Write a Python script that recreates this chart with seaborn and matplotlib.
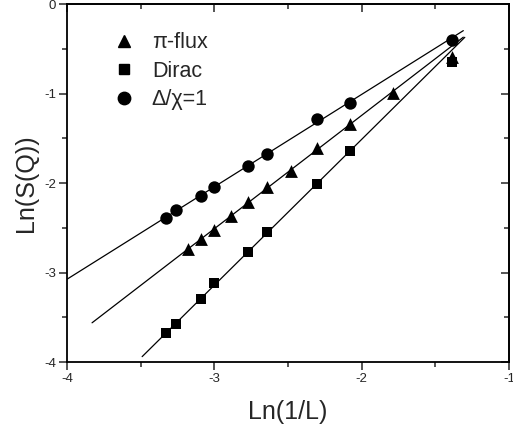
import numpy as np
import pandas as pd
import matplotlib
matplotlib.use("Agg")
import matplotlib.pyplot as plt
import seaborn as sns
from matplotlib.lines import Line2D

sns.set_style("ticks")
plt.rcParams['font.family'] = ['Liberation Sans', 'DejaVu Sans']

# Data: x = Ln(1/L), y = Ln(S(Q))
x_pi = [-3.18, -3.09, -3.00, -2.89, -2.77, -2.64, -2.48, -2.30, -2.08, -1.79, -1.39]
y_pi = [-2.74, -2.63, -2.52, -2.37, -2.21, -2.04, -1.87, -1.61, -1.34, -0.99, -0.59]

x_dirac = [-3.33, -3.26, -3.09, -3.00, -2.77, -2.64, -2.30, -2.08, -1.39]
y_dirac = [-3.68, -3.57, -3.30, -3.12, -2.77, -2.55, -2.01, -1.64, -0.65]

x_delta = [-3.33, -3.26, -3.09, -3.00, -2.77, -2.64, -2.30, -2.08, -1.39]
y_delta = [-2.39, -2.30, -2.14, -2.04, -1.81, -1.68, -1.29, -1.11, -0.40]

labels = ["\u03c0-flux", "Dirac", "\u0394/\u03c7=1"]
markers = ["^", "s", "o"]
marker_sizes = [85, 55, 80]
fit_ranges = [(-3.83, -1.31), (-3.49, -1.30), (-4.0, -1.31)]
fit_xmax = -1.5  # points used for the fit (largest lattices)

series = [(x_pi, y_pi), (x_dirac, y_dirac), (x_delta, y_delta)]

fig = plt.figure(figsize=(5.13, 4.32), dpi=100)
ax = fig.add_axes([0.1306, 0.162, 0.8616, 0.8287])

handles = []
for (xs, ys), lab, mk, ms, (x0, x1) in zip(series, labels, markers, marker_sizes, fit_ranges):
    xs = np.array(xs); ys = np.array(ys)
    sel = xs < fit_xmax
    k, b = np.polyfit(xs[sel], ys[sel], 1)
    line_df = pd.DataFrame({"x": [x0, x1], "y": [k * x0 + b, k * x1 + b]})
    sns.lineplot(data=line_df, x="x", y="y", ax=ax, color="black", lw=0.9,
                 legend=False, sort=False)
    df = pd.DataFrame({"x": xs, "y": ys})
    sns.scatterplot(data=df, x="x", y="y", ax=ax, marker=mk, s=ms,
                    color="black", edgecolor="black", linewidth=0, legend=False)
    handles.append(Line2D([], [], ls="none", marker=mk, color="black",
                          markersize=np.sqrt(ms), label=lab))

ax.set_xlim(-4, -1)
ax.set_ylim(-4, 0)
ax.set_xticks([-4, -3, -2, -1])
ax.set_yticks([-4, -3, -2, -1, 0])
ax.set_xticks([-3.5, -2.5, -1.5], minor=True)
ax.set_yticks([-3.5, -2.5, -1.5, -0.5], minor=True)
ax.set_xticklabels(["-4", "-3", "-2", "-1"])
ax.set_yticklabels(["-4", "-3", "-2", "-1", "0"])
ax.tick_params(which="major", direction="out", length=6, width=1.1, labelsize=9.5, pad=2,
               top=False, right=False)
ax.tick_params(which="minor", direction="out", length=3.5, width=1.1,
               top=False, right=False)
for sp in ax.spines.values():
    sp.set_visible(True)
    sp.set_linewidth(1.3)
    sp.set_color("black")

# mirrored inward ticks on top and right
axt = ax.secondary_xaxis("top")
axt.set_xticks([-4, -3, -2, -1])
axt.set_xticks([-3.5, -2.5, -1.5], minor=True)
axt.tick_params(which="major", direction="in", length=6, width=1.1, labeltop=False)
axt.tick_params(which="minor", direction="in", length=3.5, width=1.1)
axt.spines["top"].set_linewidth(1.3)
axr = ax.secondary_yaxis("right")
axr.set_yticks([-4, -3, -2, -1, 0])
axr.set_yticks([-3.5, -2.5, -1.5, -0.5], minor=True)
axr.tick_params(which="major", direction="in", length=6, width=1.1, labelright=False)
axr.tick_params(which="minor", direction="in", length=3.5, width=1.1)
axr.spines["right"].set_linewidth(1.3)

ax.set_xlabel("Ln(1/L)", fontsize=18, labelpad=11)
ax.set_ylabel("Ln(S(Q))", fontsize=18, labelpad=4)

leg = ax.legend(handles=handles, loc="upper left", bbox_to_anchor=(0.08, 0.945),
                frameon=False, fontsize=15.5, handletextpad=0.7, labelspacing=0.35,
                handlelength=1.2, borderaxespad=0)

fig.savefig("out.png", dpi=100)
